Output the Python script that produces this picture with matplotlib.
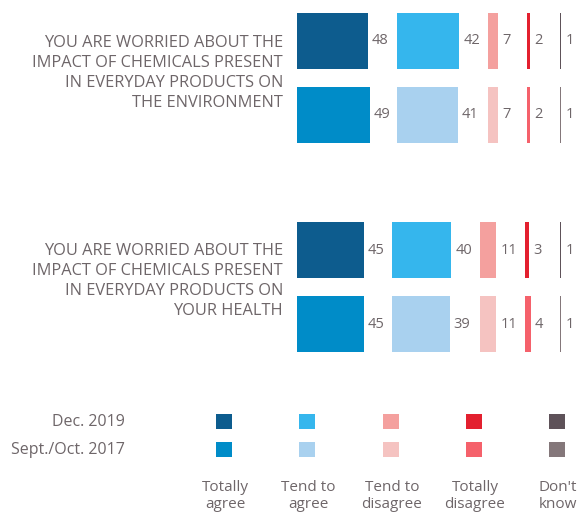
import matplotlib
matplotlib.use("Agg")
import matplotlib.pyplot as plt

# ---- data ----
categories = [
    "YOU ARE WORRIED ABOUT THE\nIMPACT OF CHEMICALS PRESENT\nIN EVERYDAY PRODUCTS ON\nTHE ENVIRONMENT",
    "YOU ARE WORRIED ABOUT THE\nIMPACT OF CHEMICALS PRESENT\nIN EVERYDAY PRODUCTS ON\nYOUR HEALTH",
]
answers = ["Totally\nagree", "Tend to\nagree", "Tend to\ndisagree", "Totally\ndisagree", "Don't\nknow"]
waves = ["Dec. 2019", "Sept./Oct. 2017"]

dec_2019 = [[48, 42, 7, 2, 1], [45, 40, 11, 3, 1]]
sept_oct_2017 = [[49, 41, 7, 2, 1], [45, 39, 11, 4, 1]]

colors_dec = ["#0d5c8e", "#35b6ed", "#f4a09e", "#e3202f", "#5e5259"]
colors_sept = ["#008cc8", "#a9d1ef", "#f5c3c1", "#f5616b", "#84777a"]

TEXT = "#6e6669"
FONT = ["Open Sans", "DejaVu Sans"]

# ---- layout (figure drawn in pixel units) ----
W, H = 581, 514
fig = plt.figure(figsize=(W / 100, H / 100), dpi=100)
ax = fig.add_axes([0, 0, 1, 1])
ax.set_xlim(0, W)
ax.set_ylim(H, 0)
ax.axis("off")

px_per_pt = 1.48
col_starts = [[297, 397, 488, 527, 560], [297, 392, 480, 525, 560]]
row_tops = [[13, 87], [222, 296]]
bar_h = 56
label_y = [73, 281]

for g, cat in enumerate(categories):
    for w, (vals, cols) in enumerate([(dec_2019[g], colors_dec), (sept_oct_2017[g], colors_sept)]):
        yc = row_tops[g][w] + bar_h / 2
        for j, v in enumerate(vals):
            left = col_starts[g][j]
            ax.barh(yc, v * px_per_pt, left=left, height=bar_h,
                    color=cols[j], linewidth=0)
            ax.text(left + v * px_per_pt + 4, yc, str(v), ha="left", va="center",
                    fontsize=10.5, color=TEXT, family=FONT)
    lines = cat.split("\n")
    n = len(lines)
    for k, line in enumerate(lines):
        ax.text(283, label_y[g] + (k - (n - 1) / 2) * 19.7, line, ha="right", va="center",
                fontsize=11.8, color=TEXT, family=FONT)

# ---- legend ----
legend_x = [224, 307, 391, 474, 557]
legend_y = [421.5, 449.5]
for w, (name, cols) in enumerate(zip(waves, [colors_dec, colors_sept])):
    ax.text(125, legend_y[w], name, ha="right", va="center", fontsize=11.5,
            color=TEXT, family=FONT)
    ax.scatter(legend_x, [legend_y[w]] * len(legend_x), marker="s", s=124,
               c=cols, linewidths=0)
for x, a in zip(legend_x, answers):
    ax.text(x + 1, 496, a, ha="center", va="center", fontsize=11, color=TEXT,
            family=FONT, linespacing=1.1)

fig.savefig("out.png", dpi=100)
